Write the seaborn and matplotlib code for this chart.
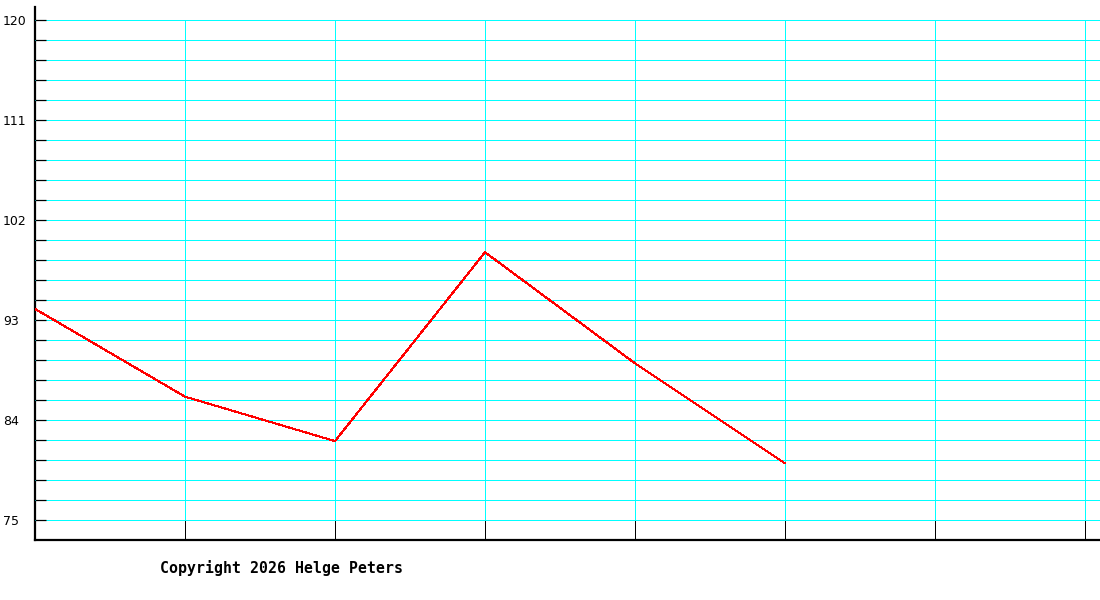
import matplotlib
matplotlib.use("Agg")
import matplotlib.pyplot as plt
import seaborn as sns
import numpy as np
import pandas as pd

# Data
x_points = [0, 1, 2, 3, 4, 5]
values = [94.0, 86.1, 82.1, 99.1, 89.1, 80.1]
y_major_ticks = [75, 84, 93, 102, 111, 120]
y_tick_labels = ["75", "84", "93", "102", "111", "120"]
x_grid_ticks = [1, 2, 3, 4, 5, 6, 7]
copyright_text = "Copyright 2026 Helge Peters"

sns.set_style("white")
plt.rcParams['font.family'] = ['DejaVu Sans']

fig = plt.figure(figsize=(11, 6), dpi=100)
ax = fig.add_axes([35/1100, 60/600, 1 - 35/1100, (540-7)/600])

df = pd.DataFrame({"x": x_points, "y": values})
ymin, ymax = 73.2, 121.17
ax.set_xlim(0, 7.1)
ax.set_ylim(ymin, ymax)

# Horizontal grid lines (major + minor)
minor = np.arange(75, 120.01, 1.8)
ax.set_yticks(y_major_ticks)
ax.set_yticklabels(y_tick_labels)
ax.set_yticks([m for m in minor if not any(abs(m - t) < 1e-6 for t in y_major_ticks)], minor=True)
ax.yaxis.grid(True, which="both", color="#00ffff", linewidth=0.72, antialiased=False)
ax.tick_params(axis="y", which="both", left=True, direction="in", length=8, width=0.9,
               color="black", labelsize=9, labelcolor="black", pad=23)
for lbl in ax.get_yticklabels():
    lbl.set_horizontalalignment("left")

# Vertical grid lines: cyan from bottom value to 120, black ticks at bottom
ax.vlines(x_grid_ticks, 75, 120, colors="#00ffff", linewidth=0.72, antialiased=False, zorder=1)
ax.set_xticks(x_grid_ticks)
ax.set_xticklabels([])
ax.tick_params(axis="x", bottom=True, direction="in", length=14.4, width=0.72, color="black")

sns.lineplot(data=df, x="x", y="y", ax=ax, color="red", linewidth=0.75, zorder=3,
             antialiased=False)
ax.set_xlabel("")
ax.set_ylabel("")

for s in ["top", "right"]:
    ax.spines[s].set_visible(False)
for s in ["left", "bottom"]:
    ax.spines[s].set_linewidth(1.6)
    ax.spines[s].set_color("black")
ax.set_axisbelow(False)

fig.text(160/1100, 1 - 568/600, copyright_text, ha="left", va="center", color="black",
         family="DejaVu Sans Mono", fontweight="bold", fontsize=10.75)

fig.savefig("out.png", dpi=100, facecolor="white")
